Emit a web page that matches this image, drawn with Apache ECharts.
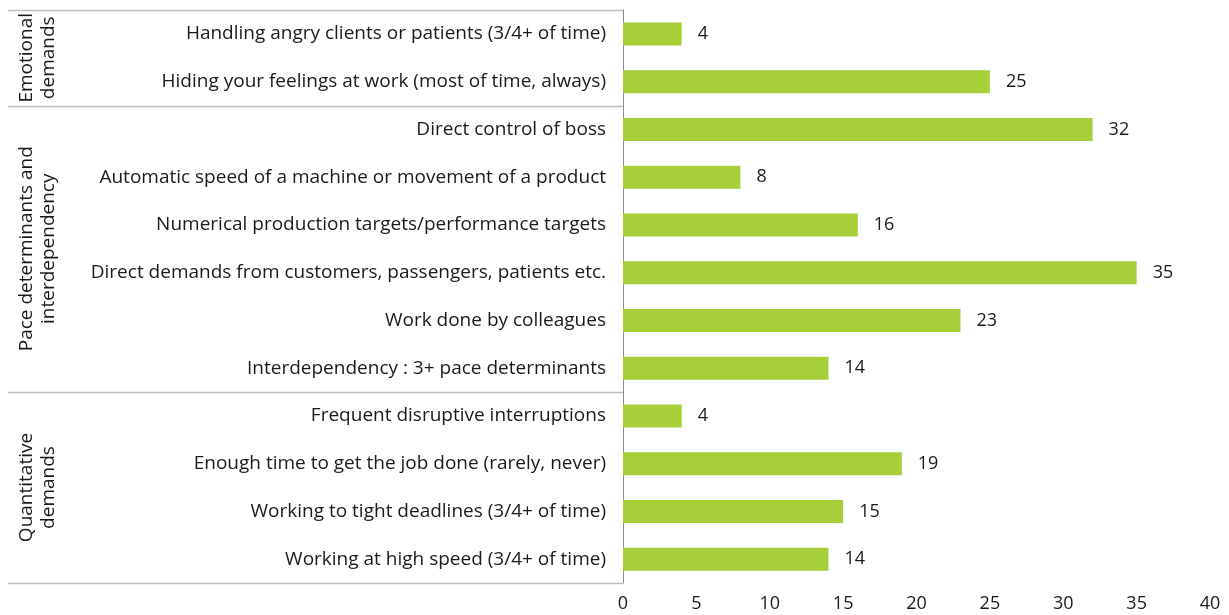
<!DOCTYPE html>
<html>
<head>
<meta charset="utf-8">
<script src="https://cdn.jsdelivr.net/npm/echarts@6/dist/echarts.min.js"></script>
<style>
  html, body { margin: 0; padding: 0; background: #fff; }
  #chart { width: 1229px; height: 615px; }
</style>
</head>
<body>
<div id="chart"></div>
<script>
// Work-intensity indicators, % of workers
const categories = [
  'Handling angry clients or patients (3/4+ of time)',
  'Hiding your feelings at work (most of time, always)',
  'Direct control of boss',
  'Automatic speed of a machine or movement of a product',
  'Numerical production targets/performance targets',
  'Direct demands from customers, passengers, patients etc.',
  'Work done by colleagues',
  'Interdependency : 3+ pace determinants',
  'Frequent disruptive interruptions',
  'Enough time to get the job done (rarely, never)',
  'Working to tight deadlines (3/4+ of time)',
  'Working at high speed (3/4+ of time)'
];
const values = [4, 25, 32, 8, 16, 35, 23, 14, 4, 19, 15, 14];

// Category groups: label and the index range they span
const groupNames = ['Emotional\ndemands', 'Pace determinants and\ninterdependency', 'Quantitative\ndemands'];
const groupStart = [0, 2, 8];
const groupEnd = [1, 7, 11];

const xTicks = [0, 5, 10, 15, 20, 25, 30, 35, 40];

const FONT = '"Open Sans"';
const chart = echarts.init(document.getElementById('chart'));

chart.setOption({
  animation: false,
  textStyle: { fontFamily: FONT },
  grid: { left: 623, right: 19, top: 10, bottom: 32, containLabel: false },
  xAxis: {
    type: 'value',
    min: xTicks[0],
    max: xTicks[xTicks.length - 1],
    interval: 5,
    axisLine: { show: false },
    axisTick: { show: false },
    splitLine: { show: false },
    axisLabel: { color: '#1a1a1a', fontSize: 18, margin: 12, fontFamily: FONT }
  },
  yAxis: {
    type: 'category',
    inverse: true,
    data: categories,
    axisLine: { show: true, lineStyle: { color: '#8c8c8c', width: 1 } },
    axisTick: { show: false },
    axisLabel: { color: '#1a1a1a', fontSize: 19, margin: 17, fontFamily: FONT }
  },
  series: [{
    type: 'bar',
    data: values,
    barWidth: 23,
    itemStyle: { color: '#a7cf3a' },
    label: {
      show: true,
      position: 'right',
      distance: 16,
      color: '#1a1a1a',
      fontSize: 18,
      fontFamily: FONT
    }
  }]
});

// Group separators and rotated group titles to the left of the axis
function drawGroups() {
  const c0 = chart.convertToPixel({ yAxisIndex: 0 }, 0);
  const c1 = chart.convertToPixel({ yAxisIndex: 0 }, 1);
  const band = c1 - c0;
  const edge = (i) => chart.convertToPixel({ yAxisIndex: 0 }, i) - band / 2;
  const axisX = chart.convertToPixel({ xAxisIndex: 0 }, 0);
  const elements = [];
  const bounds = [];
  groupStart.forEach((s) => bounds.push(edge(s)));
  bounds.push(edge(groupEnd[groupEnd.length - 1] + 1));
  bounds.forEach((y) => {
    const yy = Math.round(y) + 0.5;
    elements.push({
      type: 'line',
      shape: { x1: 8, y1: yy, x2: axisX, y2: yy },
      style: { stroke: '#bfbfbf', lineWidth: 1.5 },
      silent: true
    });
  });
  groupNames.forEach((name, g) => {
    const yc = (edge(groupStart[g]) + edge(groupEnd[g] + 1)) / 2;
    elements.push({
      type: 'text',
      x: 38,
      y: yc,
      rotation: Math.PI / 2,
      style: {
        text: name,
        fill: '#1a1a1a',
        font: '19px ' + FONT,
        align: 'center',
        verticalAlign: 'middle',
        lineHeight: 22
      },
      silent: true
    });
  });
  chart.setOption({ graphic: elements });
}
drawGroups();
</script>
</body>
</html>
